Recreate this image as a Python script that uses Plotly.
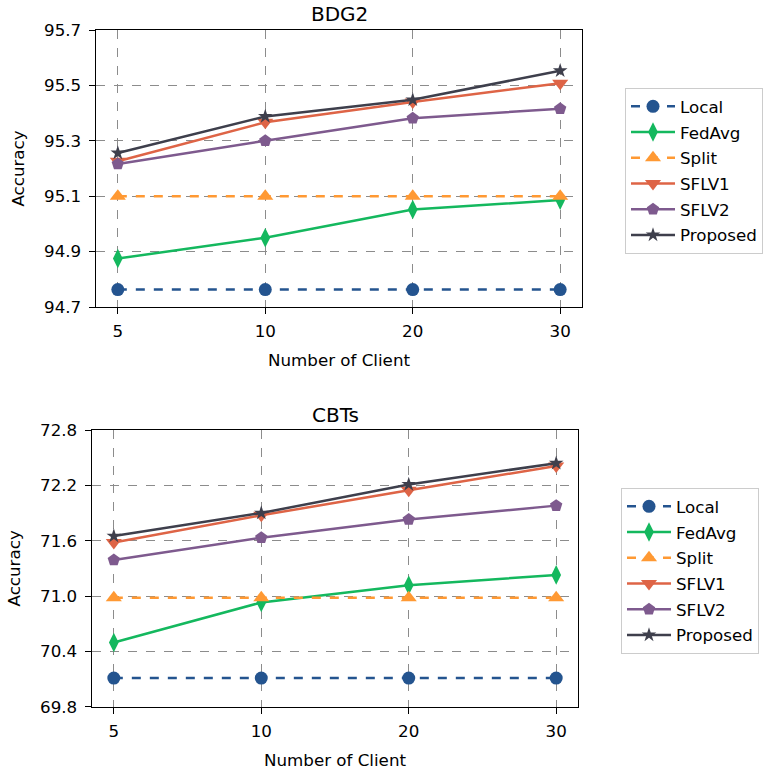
import plotly.graph_objects as go

clients = ["5", "10", "20", "30"]
series_names = ["Local", "FedAvg", "Split", "SFLV1", "SFLV2", "Proposed"]

bdg2_local = [94.763, 94.763, 94.763, 94.763]
bdg2_fedavg = [94.875, 94.95, 95.052, 95.086]
bdg2_split = [95.1, 95.1, 95.1, 95.1]
bdg2_sflv1 = [95.226, 95.367, 95.44, 95.508]
bdg2_sflv2 = [95.216, 95.30, 95.381, 95.416]
bdg2_proposed = [95.256, 95.388, 95.448, 95.553]

cbts_local = [70.11, 70.11, 70.11, 70.11]
cbts_fedavg = [70.496, 70.93, 71.117, 71.229]
cbts_split = [70.98, 70.98, 70.98, 70.98]
cbts_sflv1 = [71.58, 71.875, 72.146, 72.41]
cbts_sflv2 = [71.39, 71.633, 71.83, 71.98]
cbts_proposed = [71.65, 71.90, 72.21, 72.44]

bdg2_ticks = [94.7, 94.9, 95.1, 95.3, 95.5, 95.7]
cbts_ticks = [69.8, 70.4, 71.0, 71.6, 72.2, 72.8]

colors = ["#24548F", "#14B85E", "#FF9933", "#DE6446", "#7E5A8E", "#3E3F4C"]
symbols = ["circle", "diamond-tall", "triangle-up", "triangle-down", "pentagon", "star"]
dashes = ["dash", "solid", "dash", "solid", "solid", "solid"]
msizes = [13, 14, 14, 14, 13, 11]

FONT = "DejaVu Sans"
FS = 16.7
fig = go.Figure()

panels = [
    ([bdg2_local, bdg2_fedavg, bdg2_split, bdg2_sflv1, bdg2_sflv2, bdg2_proposed], "x", "y", "legend"),
    ([cbts_local, cbts_fedavg, cbts_split, cbts_sflv1, cbts_sflv2, cbts_proposed], "x2", "y2", "legend2"),
]
for p, (data, xa, ya, lg) in enumerate(panels):
    for i, name in enumerate(series_names):
        fig.add_trace(go.Scatter(
            x=clients, y=data[i], name=name, mode="lines+markers",
            xaxis=xa, yaxis=ya, legend=lg, legendgroup=f"{lg}_{i}",
            line=dict(color=colors[i], width=2.5, dash=dashes[i]),
            marker=dict(symbol=symbols[i], size=msizes[i], color=colors[i],
                        line=dict(width=0)),
            cliponaxis=False,
        ))

W, H = 763, 773
def px_x(v): return v / W
def px_y(v): return (H - v) / H

axis_common = dict(
    showline=True, mirror=True, linecolor="black", linewidth=1.3,
    ticks="outside", ticklen=6, tickwidth=1.3, tickcolor="black",
    showgrid=True, gridcolor="#8c8c8c", griddash="dash", gridwidth=1,
    tickfont=dict(family=FONT, size=FS, color="black"),
    zeroline=False, automargin=False,
)

fig.update_layout(
    width=W, height=H, margin=dict(l=0, r=0, t=0, b=0),
    plot_bgcolor="white", paper_bgcolor="white",
    font=dict(family=FONT, size=FS, color="black"),
    xaxis=dict(domain=[px_x(95.7), px_x(582.3)], anchor="y", type="category",
               range=[-0.15, 3.15], ticklabelstandoff=3,
               title=dict(text="Number of Client", standoff=14,
                          font=dict(family=FONT, size=FS)), **axis_common),
    yaxis=dict(domain=[px_y(307), px_y(30)], anchor="x", range=[94.7, 95.7],
               tickvals=bdg2_ticks, ticktext=[f"{v:.1f}" for v in bdg2_ticks],
               ticklabelstandoff=4,
               title=dict(text="Accuracy", standoff=15,
                          font=dict(family=FONT, size=FS)), **axis_common),
    xaxis2=dict(domain=[px_x(91.7), px_x(578.3)], anchor="y2", type="category",
                range=[-0.15, 3.15], ticklabelstandoff=3,
                title=dict(text="Number of Client", standoff=14,
                           font=dict(family=FONT, size=FS)), **axis_common),
    yaxis2=dict(domain=[px_y(706.7), px_y(430)], anchor="x2", range=[69.8, 72.8],
                tickvals=cbts_ticks, ticktext=[f"{v:.1f}" for v in cbts_ticks],
                ticklabelstandoff=4,
                title=dict(text="Accuracy", standoff=15,
                           font=dict(family=FONT, size=FS)), **axis_common),
    legend=dict(x=px_x(625), y=px_y(88), xanchor="left", yanchor="top",
                bordercolor="#cccccc", borderwidth=1, bgcolor="white",
                font=dict(family=FONT, size=FS), tracegroupgap=1,
                itemwidth=44),
    legend2=dict(x=px_x(621), y=px_y(488), xanchor="left", yanchor="top",
                 bordercolor="#cccccc", borderwidth=1, bgcolor="white",
                 font=dict(family=FONT, size=FS), tracegroupgap=1,
                 itemwidth=44),
    annotations=[
        dict(text="BDG2", x=px_x(339), y=px_y(14), xref="paper", yref="paper",
             xanchor="center", yanchor="middle", showarrow=False,
             font=dict(family=FONT, size=20, color="black")),
        dict(text="CBTs", x=px_x(335), y=px_y(415), xref="paper", yref="paper",
             xanchor="center", yanchor="middle", showarrow=False,
             font=dict(family=FONT, size=20, color="black")),
    ],
)

fig.write_html("out.html")
